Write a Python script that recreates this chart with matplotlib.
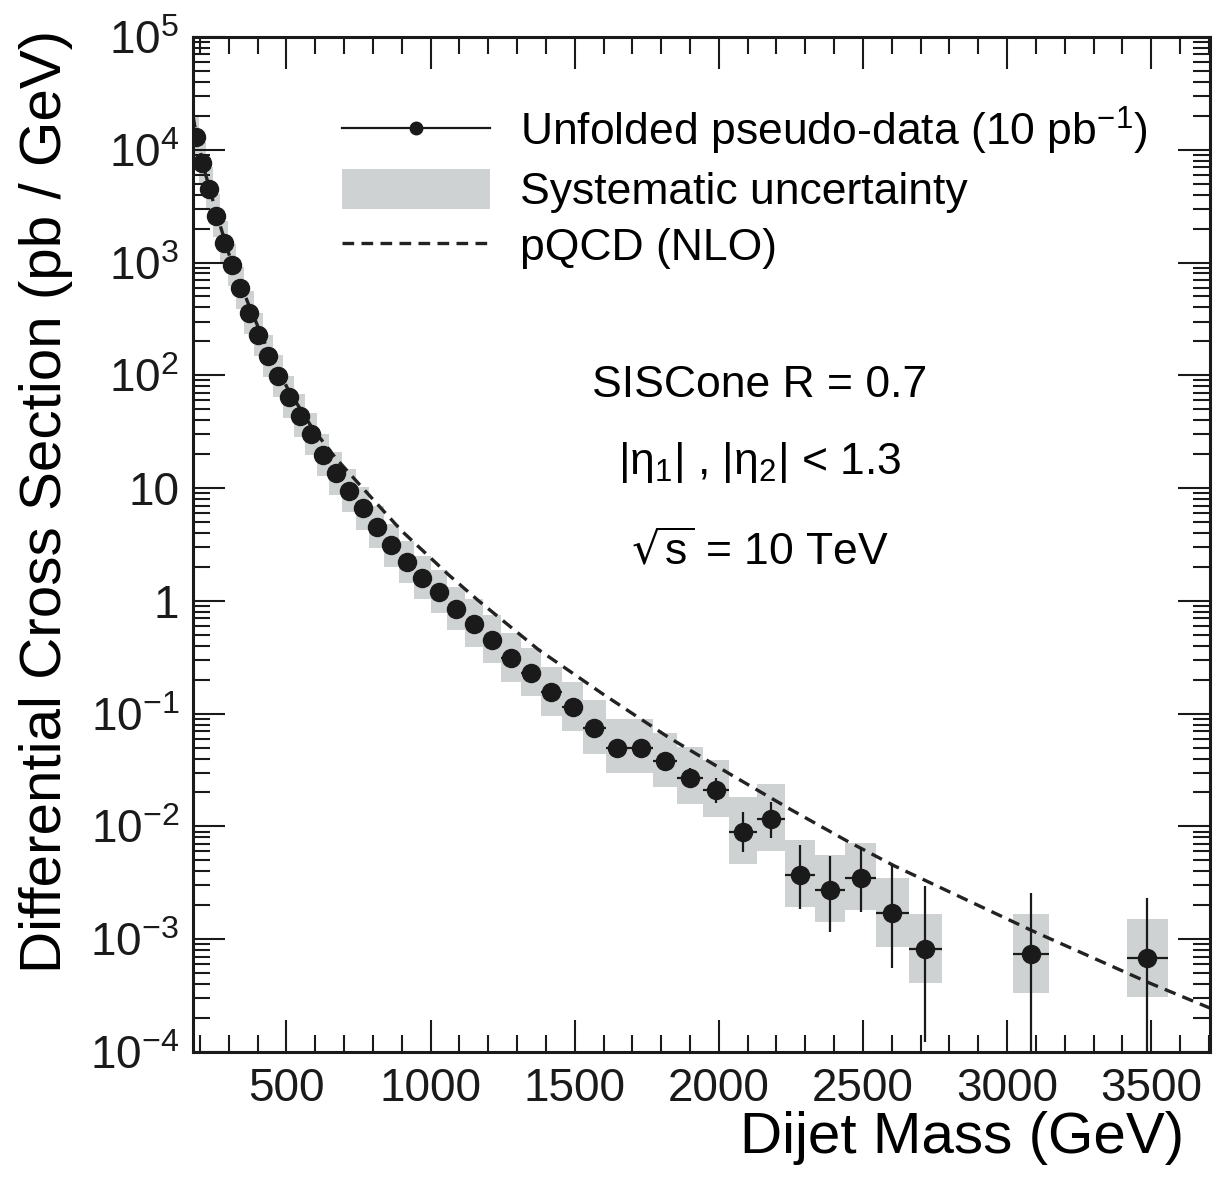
import numpy as np
import matplotlib
matplotlib.use('Agg')
import matplotlib.pyplot as plt
from matplotlib.lines import Line2D
from matplotlib.patches import Patch
from matplotlib.ticker import MultipleLocator, LogLocator, FixedLocator, FixedFormatter, NullFormatter

plt.rcParams['font.family'] = ['Liberation Sans', 'DejaVu Sans']
plt.rcParams['axes.unicode_minus'] = False

# dijet mass bins (GeV) of the measured points
mass_lo = [176, 197, 220, 244, 270, 296, 325, 354, 386, 419, 453, 489, 526, 565, 606,
           649, 693, 740, 788, 838, 890, 944, 1000, 1058, 1118, 1181, 1246, 1313, 1383, 1455,
           1530, 1607, 1687, 1770, 1856, 1945, 2037, 2132, 2231, 2332, 2438, 2546, 2659,
           3019, 3416]
mass_hi = [197, 220, 244, 270, 296, 325, 354, 386, 419, 453, 489, 526, 565, 606, 649,
           693, 740, 788, 838, 890, 944, 1000, 1058, 1118, 1181, 1246, 1313, 1383, 1455, 1530,
           1607, 1687, 1770, 1856, 1945, 2037, 2132, 2231, 2332, 2438, 2546, 2659, 2775,
           3147, 3558]
# unfolded pseudo-data (pb/GeV)
xsec = [1.3e4, 7.6e3, 4.5e3, 2.6e3, 1.5e3, 950, 590, 360, 228, 148, 98, 64, 44, 30, 19.6,
        13.5, 9.5, 6.6, 4.5, 3.1, 2.2, 1.6, 1.2, 0.85, 0.63, 0.45, 0.31, 0.23, 0.155, 0.114,
        0.075, 0.050, 0.050, 0.038, 0.027, 0.021, 0.0090, 0.0117, 0.0037, 0.00275, 0.0035,
        0.0017, 0.00082, 0.00074, 0.00068]
# statistical errors (relative, up / down)
stat_up = [0.01, 0.01, 0.01, 0.01, 0.01, 0.01, 0.01, 0.01, 0.01, 0.01, 0.015, 0.015, 0.015,
           0.02, 0.02, 0.02, 0.02, 0.025, 0.025, 0.03, 0.03, 0.03, 0.035, 0.04, 0.05, 0.06,
           0.07, 0.08, 0.09, 0.10, 0.12, 0.14, 0.16, 0.18, 0.23, 0.29, 0.50, 0.42, 0.86, 1.0,
           0.89, 1.7, 2.6, 2.5, 2.4]
stat_dn = [0.01, 0.01, 0.01, 0.01, 0.01, 0.01, 0.01, 0.01, 0.01, 0.01, 0.015, 0.015, 0.015,
           0.02, 0.02, 0.02, 0.02, 0.025, 0.025, 0.03, 0.03, 0.03, 0.035, 0.04, 0.05, 0.06,
           0.07, 0.08, 0.09, 0.10, 0.11, 0.12, 0.14, 0.15, 0.19, 0.23, 0.34, 0.32, 0.50, 0.58,
           0.50, 0.67, 0.85, 0.99, 0.99]
# systematic uncertainty (relative, up / down)
sys_up = [0.55] * 24 + [0.66] * 6 + [0.78] * 4 + [0.86] * 2 + [1.04] * 5 + [1.04] * 2 + [1.24] * 2
sys_dn = [0.35] * 24 + [0.38] * 6 + [0.41] * 4 + [0.42] * 2 + [0.48] * 5 + [0.50] * 2 + [0.55] * 2

# pQCD NLO prediction
nlo_mass = [176, 186, 220, 257, 300, 370, 440, 507, 590, 670, 750, 900, 1063, 1167, 1374,
            1600, 1824, 2050, 2250, 2446, 2609, 2792, 3093, 3300, 3493, 3704]
nlo_xsec = [2.0e4, 1.41e4, 6.0e3, 2.75e3, 1.2e3, 417, 158, 74, 34, 18.6, 11.0, 4.17, 1.70,
            1.0, 0.37, 0.148, 0.062, 0.028, 0.0141, 0.0074, 0.00447, 0.00269, 0.00117,
            0.00068, 0.00041, 0.000245]

ytick_vals = [1e-4, 1e-3, 1e-2, 1e-1, 1, 10, 1e2, 1e3, 1e4, 1e5]
ytick_labels = ['$\\mathregular{10^{-4}}$', '$\\mathregular{10^{-3}}$', '$\\mathregular{10^{-2}}$',
                '$\\mathregular{10^{-1}}$', '1', '10', '$\\mathregular{10^{2}}$',
                '$\\mathregular{10^{3}}$', '$\\mathregular{10^{4}}$', '$\\mathregular{10^{5}}$']

lo = np.array(mass_lo, float)
hi = np.array(mass_hi, float)
y = np.array(xsec)
xc = (lo + hi) / 2
xw = (hi - lo) / 2

fig = plt.figure(figsize=(12.14, 11.82), dpi=100)
ax = fig.add_axes([0.159, 0.110, 0.8377, 0.8587])
ax.set_yscale('log')

gray = '#cfd2d2'
s_lo = y * (1 - np.array(sys_dn))
s_hi = y * (1 + np.array(sys_up))
ax.bar(xc, s_hi - s_lo, bottom=s_lo, width=hi - lo, color=gray, lw=0, zorder=1)

ax.plot(nlo_mass, nlo_xsec, color='#222222', lw=2.4, ls=(0, (3.5, 2.2)), zorder=2)

ax.errorbar(xc, y, xerr=xw, yerr=[y * np.array(stat_dn), y * np.array(stat_up)],
            fmt='o', color='#1a1a1a', ms=13, elinewidth=1.6, capsize=0, zorder=3)

ax.set_xlim(176, 3704)
ax.set_ylim(1e-4, 1e5)

ax.xaxis.set_major_locator(MultipleLocator(500))
ax.xaxis.set_minor_locator(MultipleLocator(100))
ax.yaxis.set_major_locator(FixedLocator(ytick_vals))
ax.yaxis.set_major_formatter(FixedFormatter(ytick_labels))
ax.yaxis.set_minor_locator(LogLocator(base=10, subs=np.arange(2, 10), numticks=30))
ax.yaxis.set_minor_formatter(NullFormatter())
ax.tick_params(which='both', direction='in', top=True, right=True, width=1.5, colors='#1a1a1a')
ax.tick_params(which='major', length=23, labelsize=33)
ax.tick_params(which='minor', length=12)
ax.tick_params(axis='x', which='major', pad=11)
ax.tick_params(axis='y', which='major', pad=10)
for sp in ax.spines.values():
    sp.set_linewidth(2.2)
    sp.set_color('#1a1a1a')

ax.set_xlabel('Dijet Mass (GeV)', fontsize=42, loc='right')
ax.xaxis.set_label_coords(0.975, -0.058)
ax.set_ylabel('Differential Cross Section (pb / GeV)', fontsize=42, loc='top')
ax.yaxis.set_label_coords(-0.118, 1.007)

handles = [Line2D([], [], color='#1a1a1a', lw=1.6, marker='o', ms=9),
           Patch(facecolor=gray, edgecolor='none'),
           Line2D([], [], color='#222222', lw=2.4, ls=(0, (3.5, 2.2)))]
labels = ['Unfolded pseudo-data (10 $\\mathregular{pb^{-1}}$)', 'Systematic uncertainty', 'pQCD (NLO)']
ax.legend(handles, labels, loc='upper left', bbox_to_anchor=(0.1465, 0.933), frameon=False,
          fontsize=32, handlelength=3.33, handleheight=1.0, handletextpad=0.68,
          labelspacing=0.27, borderpad=0, borderaxespad=0)

ax.text(0.5575, 0.657, 'SISCone R = 0.7', transform=ax.transAxes, fontsize=32,
        ha='center', va='center')
ax.text(0.5575, 0.581, '|η$\\mathregular{_1}$| , |η$\\mathregular{_2}$| < 1.3', transform=ax.transAxes,
        fontsize=32, ha='center', va='center')
ax.text(0.5575, 0.493, '$\\sqrt{\\mathregular{s}}$ = 10 TeV', transform=ax.transAxes,
        fontsize=32, ha='center', va='center')

fig.savefig('out.png', dpi=100)
